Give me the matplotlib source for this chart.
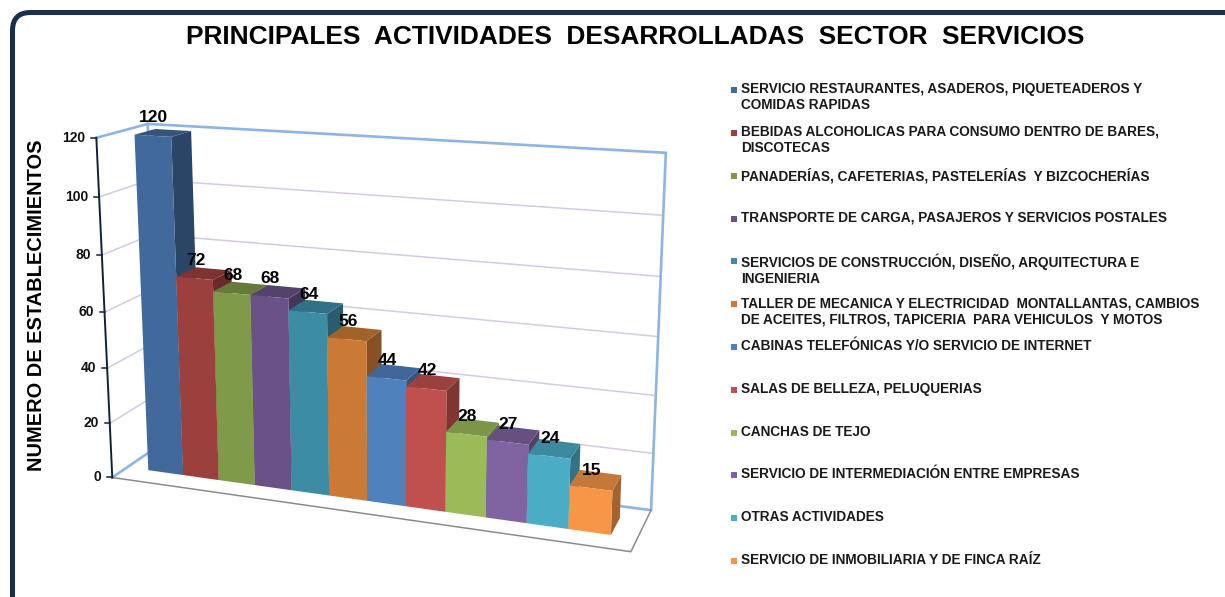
import numpy as np
import matplotlib
matplotlib.use("Agg")
import matplotlib.pyplot as plt
from matplotlib.patches import Polygon, FancyBboxPatch, Rectangle

plt.rcParams['font.family'] = ['Liberation Sans', 'DejaVu Sans']

TITLE = "PRINCIPALES  ACTIVIDADES  DESARROLLADAS  SECTOR  SERVICIOS"
YLABEL = "NUMERO DE ESTABLECIMIENTOS"
categories = [
    "SERVICIO RESTAURANTES, ASADEROS, PIQUETEADEROS Y\nCOMIDAS RAPIDAS",
    "BEBIDAS ALCOHOLICAS PARA CONSUMO DENTRO DE BARES,\nDISCOTECAS",
    "PANADERÍAS, CAFETERIAS, PASTELERÍAS  Y BIZCOCHERÍAS",
    "TRANSPORTE DE CARGA, PASAJEROS Y SERVICIOS POSTALES",
    "SERVICIOS DE CONSTRUCCIÓN, DISEÑO, ARQUITECTURA E\nINGENIERIA",
    "TALLER DE MECANICA Y ELECTRICIDAD  MONTALLANTAS, CAMBIOS\nDE ACEITES, FILTROS, TAPICERIA  PARA VEHICULOS  Y MOTOS",
    "CABINAS TELEFÓNICAS Y/O SERVICIO DE INTERNET",
    "SALAS DE BELLEZA, PELUQUERIAS",
    "CANCHAS DE TEJO",
    "SERVICIO DE INTERMEDIACIÓN ENTRE EMPRESAS",
    "OTRAS ACTIVIDADES",
    "SERVICIO DE INMOBILIARIA Y DE FINCA RAÍZ",
]
values = [120, 72, 68, 68, 64, 56, 44, 42, 28, 27, 24, 15]
colors = ["#41699B", "#9C403D", "#7F9A48", "#6A5287", "#3D8CA6", "#CB7A35",
          "#4F81BD", "#C0504D", "#9BBB59", "#8064A2", "#4BACC6", "#F79646"]
yticks = [0, 20, 40, 60, 80, 100, 120]
legend_y = [89, 132, 175, 218, 260, 303, 346, 389, 432, 474, 517, 560]

# ---- camera calibrated on the reference's chart box: (u, value, depth) -> pixel
calib = [
    (0, 0, 0, 113, 478), (1, 0, 0, 631, 551), (0, 0, 1, 161, 444), (1, 0, 1, 652, 511),
    (0, 120, 0, 97, 138), (0, 120, 1, 147, 124), (1, 120, 1, 667, 153),
    (0, 20, 0, 109, 424), (0, 40, 0, 106, 368), (0, 60, 0, 104, 312),
    (0, 80, 0, 102, 255), (0, 100, 0, 100, 197),
    (1, 100, 1, 663, 215), (1, 80, 1, 660, 276), (1, 60, 1, 658, 337),
    (1, 40, 1, 655, 396), (1, 20, 1, 653, 453),
]
A = []
for u, v, w, px, py in calib:
    X = [u, v / 120, w, 1]
    A.append(X + [0, 0, 0, 0] + [-px / 1000 * c for c in X])
    A.append([0, 0, 0, 0] + X + [-py / 1000 * c for c in X])
CAM = np.linalg.svd(np.array(A, float))[2][-1].reshape(3, 4)


def project(u, v, w):
    h = CAM @ np.array([u, v / 120, w, 1.0])
    return h[0] / h[2] * 1000, h[1] / h[2] * 1000


MARGIN = 0.61
D0, D1 = 0.30, 0.71


def ux(x):
    return (x + MARGIN) / (len(values) + 2 * MARGIN)


def shade(c, f):
    return tuple(f * k for k in matplotlib.colors.to_rgb(c))


fig = plt.figure(figsize=(12.25, 5.97), dpi=100, facecolor="white")
ax = fig.add_axes([0, 0, 1, 1])
ax.set_xlim(0, 1225)
ax.set_ylim(597, 0)
ax.axis("off")

# frame
ax.add_patch(FancyBboxPatch((12.5, 12.5), 1300, 700, boxstyle="round,pad=0,rounding_size=18",
                            fc="white", ec="#17304F", lw=3.6, zorder=0))

WALL = "#8DB4E2"
GRID = "#D5C9E6"
for v in yticks[1:-1]:
    ax.plot(*zip(project(0, v, 0), project(0, v, 1), project(1, v, 1)), color=GRID, lw=1.1, zorder=1)
for seg in ([(0, 0, 0), (0, 0, 1), (1, 0, 1), (1, 120, 1), (0, 120, 1), (0, 120, 0)],
            [(0, 0, 1), (0, 120, 1)]):
    ax.plot(*zip(*[project(*p) for p in seg]), color=WALL, lw=1.9, zorder=1.5, solid_joinstyle="miter")
ax.plot(*zip(*[project(*p) for p in [(0, 0, 0), (1, 0, 0), (1, 0, 1)]]), color="#8C8C8C", lw=1.1, zorder=1.5)

# value axis
ax.plot(*zip(project(0, 0, 0), project(0, 120, 0)), color="#0F2238", lw=1.4, zorder=2)
for v in yticks:
    x, y = project(0, v, 0)
    ax.plot([x - 5, x], [y, y], color="#0F2238", lw=1.1, zorder=2)
    ax.text(x - 11, y, str(v), ha="right", va="center", fontsize=10, fontweight="bold", color="#111111")

# bars
for i, (val, col) in enumerate(zip(values, colors)):
    a, b = ux(i), ux(i + 1)
    ax.add_patch(Polygon([project(b, 0, D0), project(b, 0, D1), project(b, val, D1), project(b, val, D0)],
                         fc=shade(col, 0.66), ec="none", zorder=3 + i * 0.01))
    ax.add_patch(Polygon([project(a, val, D0), project(b, val, D0), project(b, val, D1), project(a, val, D1)],
                         fc=shade(col, 0.8), ec="none", zorder=3 + i * 0.01))
    ax.add_patch(Polygon([project(a, 0, D0), project(b, 0, D0), project(b, val, D0), project(a, val, D0)],
                         fc=col, ec="none", zorder=3 + i * 0.01 + 0.001))
for i, val in enumerate(values):
    x, y = project(ux(i + 0.5), val, D0)
    ax.text(x + 1, y - 18, str(val), ha="center", va="center", fontsize=12.5, fontweight="bold",
            color="black", zorder=5)

# titles
ax.text(635, 37, TITLE, ha="center", va="center", fontsize=18.9, fontweight="bold", color="black")
ax.text(37, 305, YLABEL, rotation=90, ha="center", va="center", fontsize=14.4, fontweight="bold", color="black")

# legend
for name, col, y in zip(categories, colors, legend_y):
    ax.add_patch(Rectangle((731, y - 2), 6, 6, fc=col, ec="none"))
    ax.text(741, y - 7, name, ha="left", va="top", fontsize=9.85, fontweight="bold", color="#1a1a1a", linespacing=1.2)

fig.savefig("out.png", dpi=100, facecolor="white")
